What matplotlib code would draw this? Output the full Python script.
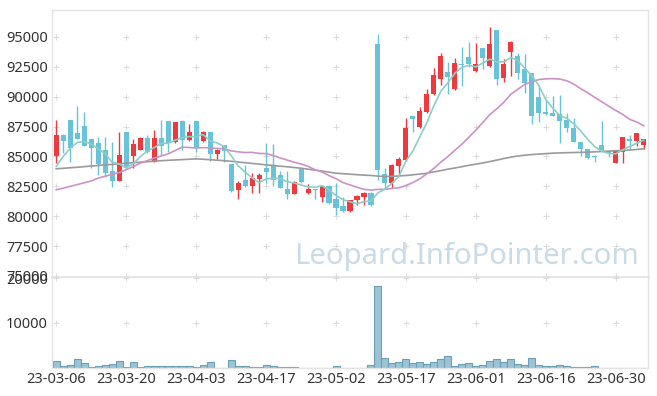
import numpy as np
import pandas as pd
import matplotlib
matplotlib.use("Agg")
import matplotlib.pyplot as plt

# =========================
# DATA
# =========================

opens = [85000, 86800, 88060, 86950, 87560, 86470, 86110, 85520, 83800, 82990,
         87060, 85000, 85580, 86550, 84580, 86550, 87980, 86190, 87980, 86390,
         87980, 86330, 87030, 85220, 85970, 84350, 82210, 83040, 82490, 83100,
         84050, 84300, 83460, 82290, 81870, 83940, 81980, 82290, 81650, 82540,
         81430, 80870, 80400, 81320, 81650, 81980, 94410, 83520, 82820, 84210,
         84720, 88390, 87450, 88700, 90210, 91460, 92070, 90620, 92750, 93300,
         92190, 94050, 92600, 95580, 91540, 93770, 93410, 92320, 91960, 89950,
         88700, 88620, 88530, 88060, 87360, 86250, 85610, 85050, 85970, 85500,
         84490, 85410, 86450, 86330, 85970]
highs = [88050, 86850, 88060, 89230, 88730, 86470, 86610, 86610, 86250, 87030,
         87060, 86440, 86650, 86800, 87220, 88060, 87980, 87900, 87980, 87700,
         87980, 87100, 87030, 85600, 86000, 84350, 82960, 84300, 83660, 83660,
         86110, 86050, 83820, 83820, 82950, 83940, 82710, 82300, 82600, 82600,
         82820, 81650, 81400, 81750, 82050, 81990, 95220, 84020, 84350, 84990,
         88200, 88400, 89120, 90620, 92440, 93630, 92940, 93270, 94190, 94610,
         94530, 94050, 95810, 95600, 93130, 94690, 93630, 93550, 91960, 90850,
         89730, 90090, 90150, 88620, 88200, 86250, 85650, 85130, 88000, 85500,
         85550, 86650, 86800, 86950, 86450]
lows = [84450, 85270, 84500, 86450, 85900, 84020, 83460, 83320, 82430, 82980,
        84000, 84020, 85550, 85300, 84550, 85130, 85410, 86100, 85550, 86300,
        85410, 86250, 84660, 84830, 84580, 82070, 81430, 82450, 81980, 81980,
        82770, 82490, 82400, 81480, 81850, 82800, 81900, 81430, 81230, 81050,
        80120, 80350, 80350, 80950, 80950, 80850, 83040, 82350, 82350, 83380,
        84650, 87080, 87400, 88650, 90150, 90990, 90200, 90600, 90900, 92520,
        92100, 92320, 92500, 90990, 91210, 91740, 91500, 90300, 87730, 87920,
        88480, 88400, 86110, 87080, 86200, 85000, 84770, 84580, 85450, 84940,
        84450, 84440, 85600, 85890, 85610]
closes = [86800, 86330, 85750, 86500, 85910, 85750, 84380, 83630, 82960, 85130,
          84160, 86050, 86550, 85390, 86550, 85910, 86110, 87860, 86390, 87060,
          85830, 87030, 85220, 85550, 85500, 82150, 82770, 82490, 83180, 83460,
          83710, 83040, 82400, 81870, 82900, 82880, 82260, 82210, 82540, 81090,
          80650, 80400, 81370, 81710, 81980, 80900, 83880, 82820, 84300, 84770,
          87360, 88120, 88810, 90210, 91820, 93410, 91630, 92800, 92650, 92710,
          92710, 93270, 94410, 91490, 92710, 94550, 91960, 91130, 88420, 88620,
          88590, 88420, 88000, 87360, 86250, 85610, 84910, 84950, 85500, 85270,
          85500, 86610, 86300, 86950, 86440]
volumes = [1550, 450, 650, 2000, 1100, 150, 450, 650, 800, 1550,
           150, 1300, 150, 400, 400, 400, 400, 400, 400, 400,
           150, 650, 1300, 100, 100, 1700, 450, 450, 150, 150,
           600, 450, 150, 150, 150, 50, 50, 50, 100, 100,
           400, 100, 100, 50, 50, 600, 18300, 2150, 1100, 1350,
           1900, 1100, 1350, 800, 1350, 1900, 2600, 400, 800, 1050,
           400, 600, 1550, 1900, 1350, 1900, 800, 600, 2150, 600,
           400, 400, 600, 400, 150, 150, 150, 400, 50, 100,
           50, 100, 100, 50, 100]

ma5_head = [84160, 85000, 85690, 86170]
ma20_head = [82210, 82350, 82500, 82650, 82800, 82950, 83190, 83350, 83500, 83660,
             83900, 84150, 84440, 84650, 84860, 85040, 85220, 85500, 85780]
ma60 = [83970, 84010, 84060, 84100, 84150, 84200, 84250, 84300, 84340, 84390,
        84440, 84480, 84520, 84560, 84610, 84650, 84680, 84710, 84740, 84770,
        84800, 84770, 84730, 84690, 84650, 84600, 84540, 84480, 84420, 84360,
        84300, 84250, 84190, 84140, 84080, 84020, 83940, 83860, 83780, 83690,
        83600, 83560, 83520, 83480, 83440, 83410, 83360, 83320, 83340, 83370,
        83410, 83470, 83530, 83600, 83710, 83820, 83940, 84040, 84150, 84260,
        84360, 84460, 84580, 84700, 84830, 84950, 85040, 85110, 85160, 85200,
        85240, 85280, 85300, 85320, 85330, 85350, 85360, 85390, 85420, 85450,
        85480, 85500, 85540, 85590, 85640]

tick_labels = ["23-03-06", "23-03-20", "23-04-03", "23-04-17", "23-05-02",
               "23-05-17", "23-06-01", "23-06-16", "23-06-30"]
tick_step = 10
price_ticks = [75000, 77500, 80000, 82500, 85000, 87500, 90000, 92500, 95000]
volume_ticks = [10000, 20000]

# =========================
# STYLE
# =========================

plt.rcParams['font.family'] = ['Noto Sans', 'DejaVu Sans']
RED = "#ee3a3e"
BLUE = "#68c2d9"
FRAME = "#e4e4e4"
TXT = "#333333"

# =========================
# MOVING AVERAGES
# =========================

close_s = pd.Series(closes, dtype=float)
ma5 = close_s.rolling(5).mean()
ma5.iloc[:len(ma5_head)] = ma5_head
ma20 = close_s.rolling(20).mean()
ma20.iloc[:len(ma20_head)] = ma20_head

x = np.arange(len(closes))
o = np.array(opens, dtype=float)
c = np.array(closes, dtype=float)
colors = np.where(c >= o, RED, BLUE)

# =========================
# FIGURE
# =========================

fig = plt.figure(figsize=(6.57, 3.96), dpi=100)
ax = fig.add_axes([52 / 657, 1 - 277 / 396, 596 / 657, 267 / 396])
axv = fig.add_axes([52 / 657, 1 - 368 / 396, 596 / 657, 90 / 396])

xlim = (-0.6, len(closes) - 0.4)

# candles
ax.vlines(x, lows, highs, colors=colors, linewidth=1, zorder=2)
body = np.maximum(np.abs(c - o), 60)
ax.bar(x, body, bottom=np.minimum(o, c), width=0.72, color=colors, zorder=3)

# moving average lines
ax.plot(x, ma60, color="#9a9a9a", linewidth=1.2, zorder=4)
ax.plot(x, ma20, color="#cc92c8", linewidth=1.2, zorder=4)
ax.plot(x, ma5, color="#8ccfc8", linewidth=1.2, zorder=4)

ax.set_xlim(*xlim)
ax.set_ylim(74916, 97259)
ax.set_yticks(price_ticks)
ax.set_yticklabels([str(t) for t in price_ticks])
ax.set_xticks([])

# grid drawn as small crosses
tick_x = np.arange(len(tick_labels)) * tick_step
gx, gy = np.meshgrid(tick_x, price_ticks)
ax.scatter(gx.ravel(), gy.ravel(), marker="+", s=18, color="#dcdcdc",
           linewidths=0.8, zorder=1)

# watermark
ax.text(0.985, 0.05, "Leopard.InfoPointer.com", transform=ax.transAxes,
        ha="right", va="baseline", fontsize=21, color="#c9dbe7", zorder=0)

# volume
axv.bar(x, volumes, width=1.0, color="#9cc3d3", edgecolor="#6a9fb8",
        linewidth=0.8)
axv.set_xlim(*xlim)
axv.set_ylim(0, 20000)
axv.set_yticks(volume_ticks)
axv.set_yticklabels([str(t) for t in volume_ticks])
axv.set_xticks(tick_x)
axv.set_xticklabels(tick_labels)
vx, vy = np.meshgrid(tick_x, volume_ticks)
axv.scatter(vx.ravel(), vy.ravel(), marker="+", s=18, color="#dcdcdc",
            linewidths=0.8, zorder=0, clip_on=False)

for a in (ax, axv):
    a.tick_params(length=0, labelsize=10.5, colors=TXT, pad=3)
    for s in a.spines.values():
        s.set_color(FRAME)
        s.set_linewidth(1)
ax.spines["bottom"].set_linewidth(2)
axv.spines["top"].set_visible(False)

fig.savefig("out.png", dpi=100, facecolor="white")
